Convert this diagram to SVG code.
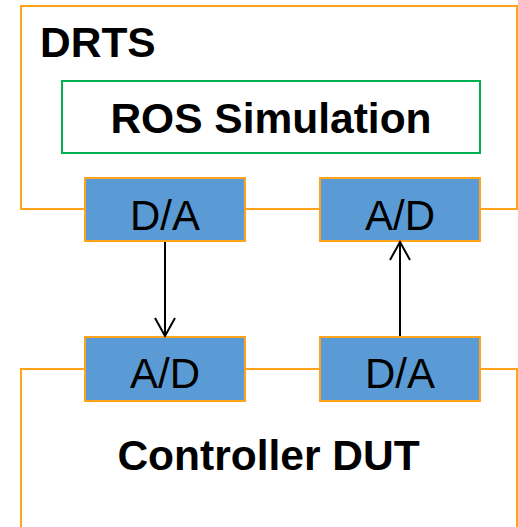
<svg xmlns="http://www.w3.org/2000/svg" width="518" height="527" viewBox="0 0 518 527">
  <style>
    .frame { fill: none; stroke: #FFA31A; stroke-width: 2; }
    .conv { fill: #5B9BD5; stroke: #FFA31A; stroke-width: 2; }
    .sim { fill: #FFFFFF; stroke: #00B050; stroke-width: 2; }
    .bold { font-family: "Liberation Sans", Arial, sans-serif; font-weight: bold; font-size: 42.5px; fill: #000; }
    .lbl { font-family: "Liberation Sans", Arial, sans-serif; font-size: 42px; fill: #000; text-anchor: middle; }
    .wire { stroke: #000; stroke-width: 2; fill: none; }
    .head { stroke: #000; stroke-width: 2; fill: none; stroke-linejoin: miter; }
  </style>
  <rect width="518" height="527" fill="#FFFFFF"/>

  <g id="drts">
    <rect class="frame" x="21" y="6" width="496" height="203"/>
    <text class="bold" x="40" y="57">DRTS</text>
  </g>

  <g id="ros-simulation">
    <rect class="sim" x="62" y="81" width="418" height="72"/>
    <text class="bold" x="271" y="133" text-anchor="middle">ROS Simulation</text>
  </g>

  <g id="controller-dut">
    <path class="frame" d="M21 540 V369 H517 V540"/>
    <text class="bold" x="268.5" y="470" text-anchor="middle">Controller DUT</text>
  </g>

  <g id="drts-da">
    <rect class="conv" x="85" y="178" width="160" height="63"/>
    <text class="lbl" x="165" y="230">D/A</text>
  </g>

  <g id="drts-ad">
    <rect class="conv" x="320" y="178" width="160" height="63"/>
    <text class="lbl" x="400" y="230">A/D</text>
  </g>

  <g id="dut-ad">
    <rect class="conv" x="85" y="337" width="160" height="64"/>
    <text class="lbl" x="165" y="388">A/D</text>
  </g>

  <g id="dut-da">
    <rect class="conv" x="320" y="337" width="160" height="64"/>
    <text class="lbl" x="400" y="388">D/A</text>
  </g>

  <g id="connectors">
    <line class="wire" x1="165" y1="242" x2="165" y2="335"/>
    <polyline class="head" points="155,318 165,336 175,318"/>
    <line class="wire" x1="400" y1="336" x2="400" y2="243"/>
    <polyline class="head" points="390,260 400,242 410,260"/>
  </g>
</svg>
